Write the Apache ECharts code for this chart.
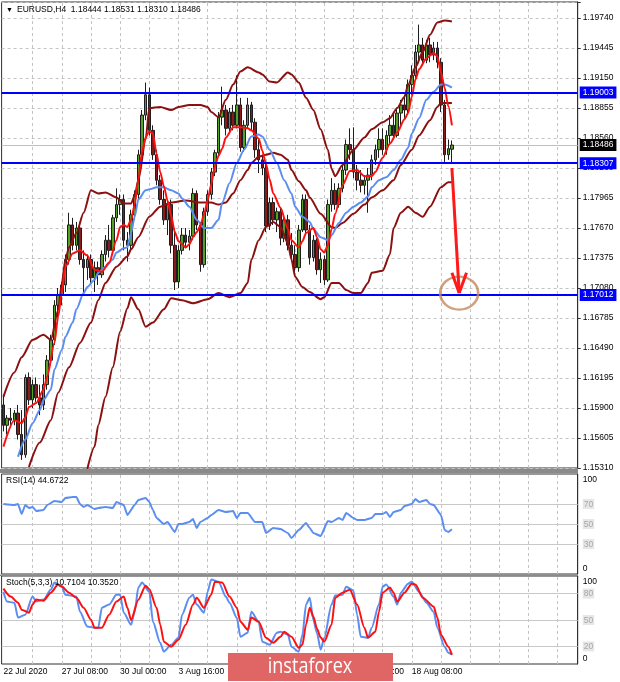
<!DOCTYPE html>
<html>
<head>
<meta charset="utf-8">
<script src="https://cdn.jsdelivr.net/npm/echarts@6.0.0/dist/echarts.min.js"></script>
<style>
html,body{margin:0;padding:0;background:#fff;}
#chart{width:620px;height:682px;}
</style>
</head>
<body>
<div id="chart"></div>
<script>
// ---------- DATA ----------
const symbolName = 'EURUSD,H4';
const year = '2020';
const BASE = 1.1531;          // lowest price tick of the main panel
const STEP = 0.00295;         // price tick step
const priceTicks = ['1.15310','1.15605','1.15900','1.16195','1.16490','1.16785','1.17080','1.17375',
  '1.17670','1.17965','1.18260','1.18560','1.18855','1.19150','1.19445','1.19740'];

const tradingDays = ['22 Jul','23 Jul','24 Jul','27 Jul','28 Jul','29 Jul','30 Jul','31 Jul',
  '3 Aug','4 Aug','5 Aug','6 Aug','7 Aug','10 Aug','11 Aug','12 Aug','13 Aug','14 Aug',
  '17 Aug','18 Aug','19 Aug','20 Aug','21 Aug','24 Aug','25 Aug','26 Aug','27 Aug'];
const barHours = ['00:00','04:00','08:00','12:00','16:00','20:00'];
const firstBar = 4;      // first visible bar: 22 Jul 16:00
const slotCount = 158;   // bar slots across the window (incl. right shift)

// [open, high, low, close]
const ohlc = [
[1.1593,1.1603,1.1567,1.1573],[1.1573,1.1583,1.1564,1.1580],[1.1580,1.1590,1.1571,1.1578],[1.1578,1.1588,1.1573,1.1585],
[1.1585,1.1593,1.1559,1.1564],[1.1564,1.1588,1.1539,1.1544],[1.1544,1.1623,1.1541,1.1620],[1.1620,1.1625,1.1593,1.1598],
[1.1598,1.1618,1.1590,1.1613],[1.1613,1.1620,1.1596,1.1600],[1.1600,1.1613,1.1583,1.1593],[1.1593,1.1623,1.1588,1.1613],
[1.1613,1.1642,1.1608,1.1637],[1.1637,1.1662,1.1632,1.1657],[1.1657,1.1696,1.1652,1.1691],[1.1691,1.1708,1.1679,1.1701],
[1.1701,1.1714,1.1691,1.1711],[1.1711,1.1741,1.1704,1.1736],[1.1736,1.1782,1.1731,1.1770],[1.1770,1.1777,1.1745,1.1750],
[1.1750,1.1773,1.1745,1.1767],[1.1767,1.1773,1.1731,1.1736],[1.1736,1.1745,1.1703,1.1728],[1.1728,1.1741,1.1716,1.1736],
[1.1736,1.1741,1.1711,1.1718],[1.1718,1.1734,1.1704,1.1728],[1.1728,1.1734,1.1711,1.1721],[1.1721,1.1745,1.1718,1.1741],
[1.1741,1.1760,1.1734,1.1755],[1.1755,1.1770,1.1738,1.1745],[1.1745,1.1780,1.1742,1.1777],[1.1777,1.1806,1.1773,1.1790],
[1.1790,1.1800,1.1780,1.1795],[1.1795,1.1800,1.1745,1.1755],[1.1755,1.1763,1.1734,1.1750],[1.1750,1.1785,1.1745,1.1780],
[1.1780,1.1804,1.1775,1.1800],[1.1800,1.1844,1.1795,1.1839],[1.1839,1.1883,1.1834,1.1878],[1.1878,1.1910,1.1873,1.1898],
[1.1898,1.1905,1.1858,1.1863],[1.1863,1.1868,1.1834,1.1839],[1.1839,1.1844,1.1809,1.1814],[1.1814,1.1819,1.1790,1.1795],
[1.1795,1.1804,1.1770,1.1775],[1.1775,1.1795,1.1760,1.1790],[1.1790,1.1795,1.1742,1.1750],[1.1750,1.1767,1.1706,1.1714],
[1.1714,1.1750,1.1708,1.1745],[1.1745,1.1767,1.1741,1.1760],[1.1760,1.1767,1.1747,1.1753],[1.1753,1.1765,1.1745,1.1759],
[1.1759,1.1806,1.1755,1.1801],[1.1801,1.1804,1.1765,1.1770],[1.1770,1.1773,1.1724,1.1731],[1.1731,1.1787,1.1728,1.1783],
[1.1783,1.1804,1.1779,1.1800],[1.1800,1.1826,1.1795,1.1822],[1.1822,1.1844,1.1818,1.1841],[1.1841,1.1881,1.1838,1.1876],
[1.1876,1.1906,1.1868,1.1883],[1.1883,1.1888,1.1858,1.1865],[1.1865,1.1885,1.1861,1.1881],[1.1881,1.1888,1.1863,1.1868],
[1.1868,1.1917,1.1865,1.1888],[1.1888,1.1895,1.1842,1.1846],[1.1846,1.1873,1.1842,1.1868],[1.1868,1.1895,1.1865,1.1888],
[1.1888,1.1891,1.1863,1.1871],[1.1871,1.1875,1.1836,1.1844],[1.1844,1.1854,1.1821,1.1834],[1.1834,1.1839,1.1819,1.1826],
[1.1826,1.1832,1.1763,1.1769],[1.1769,1.1797,1.1765,1.1792],[1.1792,1.1797,1.1770,1.1775],[1.1775,1.1787,1.1763,1.1783],
[1.1783,1.1787,1.1750,1.1757],[1.1757,1.1780,1.1753,1.1775],[1.1775,1.1780,1.1745,1.1750],[1.1750,1.1762,1.1734,1.1741],
[1.1741,1.1750,1.1723,1.1728],[1.1728,1.1770,1.1724,1.1765],[1.1765,1.1800,1.1763,1.1795],[1.1795,1.1800,1.1760,1.1765],
[1.1765,1.1770,1.1731,1.1738],[1.1738,1.1760,1.1734,1.1755],[1.1755,1.1757,1.1721,1.1726],[1.1726,1.1743,1.1713,1.1736],
[1.1736,1.1740,1.1711,1.1716],[1.1716,1.1795,1.1714,1.1790],[1.1790,1.1816,1.1783,1.1804],[1.1804,1.1811,1.1785,1.1790],
[1.1790,1.1811,1.1787,1.1806],[1.1806,1.1829,1.1802,1.1824],[1.1824,1.1854,1.1819,1.1849],[1.1849,1.1865,1.1834,1.1844],
[1.1844,1.1866,1.1816,1.1822],[1.1822,1.1829,1.1804,1.1814],[1.1814,1.1824,1.1802,1.1809],[1.1809,1.1819,1.1800,1.1814],
[1.1814,1.1826,1.1782,1.1819],[1.1819,1.1839,1.1814,1.1834],[1.1834,1.1849,1.1829,1.1844],[1.1844,1.1865,1.1836,1.1854],
[1.1854,1.1865,1.1839,1.1844],[1.1844,1.1863,1.1839,1.1858],[1.1858,1.1878,1.1849,1.1868],[1.1868,1.1881,1.1854,1.1858],
[1.1858,1.1885,1.1856,1.1880],[1.1880,1.1893,1.1868,1.1888],[1.1888,1.1898,1.1873,1.1883],[1.1883,1.1913,1.1880,1.1908],
[1.1908,1.1927,1.1898,1.1917],[1.1917,1.1947,1.1913,1.1940],[1.1940,1.1967,1.1930,1.1947],[1.1947,1.1954,1.1927,1.1932],
[1.1932,1.1952,1.1929,1.1947],[1.1947,1.1954,1.1930,1.1937],[1.1937,1.1950,1.1932,1.1944],[1.1944,1.1950,1.1924,1.1930],
[1.1930,1.1934,1.1881,1.1888],[1.1888,1.1893,1.1832,1.1839],[1.1839,1.1854,1.1834,1.1845],[1.18444,1.18531,1.18310,1.18486]
];

// indicator lines: [bar index, value]
const upperBand = [[0,1.1601],[3,1.1625],[5,1.1640],[8,1.1657],[11,1.1662],[13,1.1657],[15,1.1686],[16,1.1712],[17,1.1736],[18,1.1748],[20,1.1762],[22,1.1782],[24,1.1804],[26,1.1801],[28,1.1802],[31,1.1797],[33,1.1791],[35,1.1791],[36,1.1799],[37,1.1814],[39,1.1854],[40,1.1885],[43,1.1886],[46,1.1883],[48,1.1886],[51,1.1888],[54,1.1888],[56,1.1886],[57,1.1881],[59,1.1876],[61,1.1893],[63,1.1908],[65,1.1921],[67,1.1925],[70,1.1920],[71,1.1918],[73,1.1911],[75,1.1910],[78,1.1920],[79,1.1918],[81,1.1910],[83,1.1895],[85,1.1883],[87,1.1864],[89,1.1844],[90,1.1825],[91,1.1818],[93,1.1829],[96,1.1844],[99,1.1856],[101,1.1864],[104,1.1871],[106,1.1875],[108,1.1885],[110,1.1896],[111,1.1908],[113,1.1925],[115,1.1940],[117,1.1957],[119,1.1969],[121,1.1971],[123,1.1970]];
const lowerBand = [[23,1.1530],[25,1.1552],[26,1.1573],[28,1.1601],[30,1.1630],[32,1.1665],[34,1.1688],[35,1.1699],[37,1.1687],[39,1.1670],[41,1.1674],[44,1.1687],[46,1.1698],[49,1.1696],[52,1.1693],[56,1.1697],[59,1.1703],[62,1.1699],[65,1.1703],[67,1.1713],[68,1.1736],[70,1.1755],[72,1.1768],[74,1.1773],[76,1.1768],[78,1.1752],[79,1.1736],[80,1.1719],[82,1.1709],[84,1.1704],[87,1.1697],[88,1.1699],[90,1.1713],[92,1.1713],[94,1.1706],[96,1.1703],[98,1.1703],[100,1.1713],[101,1.1723],[104,1.1725],[106,1.1741],[107,1.1767],[109,1.1782],[111,1.1788],[113,1.1782],[115,1.1778],[117,1.1788],[120,1.1807],[122,1.1812],[123,1.1812]];
const slowMA = [[7,1.1532],[10,1.1556],[13,1.1578],[15,1.1605],[18,1.1630],[21,1.1654],[24,1.1674],[26,1.1696],[28,1.1713],[31,1.1729],[34,1.1739],[35,1.1746],[37,1.1758],[40,1.1778],[43,1.1788],[46,1.1792],[50,1.1794],[54,1.1792],[57,1.1792],[59,1.1790],[61,1.1792],[63,1.1801],[65,1.1814],[67,1.1824],[68,1.1831],[70,1.1837],[72,1.1839],[74,1.1841],[76,1.1839],[78,1.1834],[79,1.1824],[81,1.1813],[83,1.1804],[84,1.1797],[87,1.1781],[90,1.1768],[91,1.1767],[93,1.1772],[96,1.1781],[99,1.1790],[101,1.1797],[104,1.1804],[107,1.1814],[109,1.1829],[112,1.1844],[114,1.1858],[117,1.1873],[119,1.1886],[120,1.1890],[123,1.1890]];
const blueMA = [[4,1.1542],[6,1.1559],[8,1.1575],[10,1.1588],[11,1.1598],[13,1.1608],[14,1.1628],[16,1.1647],[17,1.1660],[19,1.1674],[20,1.1687],[22,1.1703],[23,1.1709],[25,1.1716],[26,1.1723],[28,1.1729],[30,1.1736],[31,1.1743],[33,1.1747],[34,1.1748],[35,1.1762],[36,1.1778],[37,1.1795],[39,1.1804],[40,1.1805],[42,1.1807],[44,1.1807],[46,1.1804],[48,1.1801],[49,1.1796],[51,1.1788],[53,1.1775],[55,1.1767],[57,1.1767],[59,1.1775],[60,1.1792],[62,1.1811],[64,1.1831],[66,1.1844],[68,1.1857],[70,1.1859],[71,1.1857],[73,1.1844],[75,1.1831],[77,1.1814],[79,1.1801],[80,1.1788],[82,1.1778],[84,1.1773],[85,1.1766],[87,1.1758],[89,1.1755],[90,1.1760],[92,1.1772],[94,1.1782],[96,1.1788],[98,1.1792],[100,1.1798],[101,1.1807],[103,1.1814],[105,1.1817],[107,1.1824],[109,1.1834],[111,1.1846],[112,1.1860],[114,1.1875],[116,1.1893],[118,1.1901],[120,1.1908],[121,1.1908],[123,1.1905]];
const redMA = [[0,1.1552],[3,1.1578],[5,1.1575],[6,1.1581],[7,1.1591],[9,1.1595],[11,1.1608],[12,1.1621],[14,1.1654],[15,1.1680],[16,1.1703],[17,1.1729],[19,1.1742],[21,1.1745],[23,1.1740],[25,1.1726],[27,1.1724],[29,1.1733],[31,1.1755],[32,1.1768],[33,1.1770],[34,1.1768],[35,1.1775],[36,1.1790],[37,1.1815],[38,1.1842],[39,1.1856],[40,1.1862],[41,1.1860],[42,1.1840],[43,1.1822],[44,1.1808],[45,1.1794],[46,1.1779],[47,1.1763],[48,1.1754],[50,1.1748],[51,1.1751],[52,1.1758],[53,1.1763],[54,1.1769],[55,1.1780],[56,1.1794],[57,1.1810],[58,1.1828],[59,1.1838],[60,1.1845],[61,1.1856],[63,1.1866],[65,1.1866],[67,1.1865],[68,1.1863],[70,1.1855],[71,1.1843],[72,1.1830],[73,1.1815],[74,1.1801],[76,1.1787],[78,1.1766],[79,1.1755],[81,1.1748],[82,1.1754],[83,1.1762],[85,1.1767],[86,1.1758],[87,1.1746],[88,1.1743],[89,1.1750],[90,1.1766],[91,1.1781],[93,1.1809],[95,1.1823],[97,1.1824],[99,1.1818],[101,1.1818],[102,1.1822],[104,1.1836],[106,1.1850],[108,1.1861],[110,1.1874],[111,1.1880],[112,1.1896],[113,1.1913],[114,1.1923],[116,1.1934],[118,1.1939],[119,1.1936],[120,1.1920],[121,1.1905],[122,1.1887],[123,1.1868]];

const rsi = [[0,70],[3,69],[4,70],[5,60],[6,69],[7,66],[8,67],[9,63],[11,64],[12,69],[14,73],[16,72],[17,76],[19,77],[20,77],[21,70],[22,67],[23,69],[25,65],[26,66],[28,67],[30,66],[31,72],[33,69],[34,59],[36,69],[37,74],[39,76],[40,72],[41,64],[42,56],[44,50],[45,52],[47,42],[48,50],[49,50],[51,52],[52,55],[53,46],[54,52],[56,56],[57,59],[59,64],[61,62],[63,63],[64,56],[65,61],[67,61],[69,52],[71,52],[72,41],[74,46],[76,45],[78,41],[79,36],[81,44],[83,51],[84,46],[85,41],[87,38],[89,53],[90,52],[92,56],[93,54],[94,61],[96,56],[97,54],[99,54],[101,56],[102,60],[104,60],[105,62],[106,57],[107,62],[109,64],[110,68],[112,70],[113,75],[114,72],[116,74],[117,70],[118,69],[120,59],[121,44],[122,42],[123,44.6722]];
const stochK = [[0,82.2],[1,70.9],[3,69.7],[4,52.7],[6,56.1],[8,76.6],[9,70.9],[11,73.2],[13,84.5],[14,92.5],[16,88],[17,78.8],[20,76.6],[21,59.4],[23,42.5],[25,41.3],[26,41.3],[27,64],[29,67.5],[31,78.8],[32,78.8],[33,58.3],[35,44.7],[36,59.4],[37,86.8],[38,92.5],[40,82.2],[41,48.1],[43,24.2],[44,14],[46,21.8],[48,29.9],[49,56.1],[51,75.4],[52,78.8],[53,67.5],[55,58.3],[56,82.2],[57,95.9],[59,93.6],[61,76.6],[62,69.7],[64,52.7],[65,31],[67,35.5],[68,59.4],[70,48.1],[71,25.4],[73,21.8],[75,35.5],[76,36.7],[78,33.3],[79,19.7],[81,14],[82,33.3],[83,67.5],[84,75.4],[85,50],[86,35],[87,16.3],[88,29.9],[90,67.5],[91,77.7],[93,78.8],[94,87.9],[96,83.3],[97,56.1],[98,31],[100,29.9],[101,41.3],[103,67.5],[104,87.9],[105,90.2],[107,76.6],[108,67.5],[109,81.1],[111,91.3],[112,93.6],[114,82.2],[116,69.7],[118,59.4],[119,41.3],[121,19.7],[122,12.9],[123,10.7104]];
const stochD = [[0,85.7],[2,76.6],[4,69.7],[5,61.7],[7,58.3],[8,67.5],[9,73.2],[11,72],[13,81.1],[15,90.2],[16,88],[18,81.1],[20,75.4],[22,64],[24,50.4],[25,41.3],[27,41.3],[29,56.1],[31,70.9],[33,76.6],[34,64],[35,50],[37,73],[39,89],[40,85],[42,64],[43,44.7],[44,25.4],[46,19.7],[48,27.6],[50,44.7],[52,67.5],[53,75.4],[55,64],[57,78.8],[58,93.6],[60,92.5],[62,76.6],[64,64],[65,48.1],[67,39],[68,52.7],[70,48.1],[72,29.9],[74,24.2],[76,31],[77,36.7],[79,31],[81,18.5],[82,21.8],[83,45],[84,64],[85,54],[86,40],[87,30],[88,25.4],[90,44.7],[91,75.4],[93,81.1],[95,84.5],[97,67.5],[99,41.3],[100,29.9],[102,36.7],[103,59.4],[104,81.1],[106,86.8],[107,81.1],[108,70.9],[110,81.1],[112,91.3],[113,90.2],[115,75.4],[118,65.2],[119,52.7],[120,33.3],[122,19.7],[123,10.3520]];

const levels = [1.19003, 1.18307, 1.17012];
const rsiLevels = [30, 50, 70];
const stochLevels = [20, 50, 80];
// hand-drawn forecast arrow and target circle (bar index, price)
const arrowShaft = [[123, 1.1826], [125, 1.1703]];
const arrowArms = [[[123, 1.1723], [125, 1.1703]], [[127, 1.1723], [125, 1.1703]]];
const targetCircle = [125, 1.1703];

// ---------- BUILD ----------
const FONT = '"Liberation Sans", Arial, sans-serif';
const FS = 8.5;
const categories = tradingDays.flatMap(d => barHours.map(h => d + ' ' + h)).slice(firstBar, firstBar + slotCount);
const off = p => +(p - BASE).toFixed(6);
const offPairs = arr => arr.map(([i, p]) => [i, off(p)]);
const last = ohlc[ohlc.length - 1];
const lastPrice = last[3];
const gridEvery = 8, labelEvery = 16;
const vGrid = [];
for (let i = gridEvery; i < slotCount; i += gridEvery) vGrid.push({ xAxis: categories[i] });

const GL = 1.6, GW = 576.1;
const grids = [
  { left: GL, top: 2, width: GW, height: 466 },
  { left: GL, top: 474, width: GW, height: 100 },
  { left: GL, top: 576, width: GW, height: 88 }
];
grids.forEach(g => { g.show = true; g.borderColor = '#303030'; g.borderWidth = 1; g.backgroundColor = '#fff'; });

const xAxes = [0, 1, 2].map(g => ({
  gridIndex: g, type: 'category', data: categories, boundaryGap: true,
  axisLine: { show: false }, axisTick: { show: false }, splitLine: { show: false },
  axisLabel: g === 2 ? {
    show: true, align: 'left', margin: 3, fontSize: FS, fontFamily: FONT, color: '#000',
    interval: (i) => i < ohlc.length && i % labelEvery === 0,
    formatter: (v, i) => i === 0 ? v.split(' ').slice(0, 2).join(' ') + ' ' + year : v
  } : { show: false }
}));

const levelRich = { color: '#a8a8a8', backgroundColor: '#e6e6e6', padding: [1, 1, 0, 1], fontSize: FS, fontFamily: FONT };
const edgeRich = {
  top: { padding: [11, 0, 0, 0], fontSize: FS, fontFamily: FONT, color: '#000' },
  bot: { padding: [0, 0, 11, 0], fontSize: FS, fontFamily: FONT, color: '#000' },
  lv: levelRich
};
const oscAxis = (g, lv) => ({
  gridIndex: g, type: 'value', position: 'right', min: 0, max: 100, interval: 10,
  axisLine: { show: true, lineStyle: { color: '#303030' } }, axisTick: { show: false }, splitLine: { show: false },
  axisLabel: {
    margin: 5, fontSize: FS, fontFamily: FONT, color: '#000', rich: edgeRich,
    formatter: v => v === 100 ? '{top|100}' : v === 0 ? '{bot|0}' : lv.includes(v) ? '{lv|' + v + '}' : ''
  }
});

const yAxes = [
  {
    gridIndex: 0, type: 'value', position: 'right', min: 0, max: 466 / 30 * STEP, interval: STEP,
    axisLine: { show: true, lineStyle: { color: '#303030' } },
    axisTick: { show: true, length: 3, lineStyle: { color: '#303030' } },
    axisLabel: { margin: 5, fontSize: FS, fontFamily: FONT, color: '#000',
      formatter: v => priceTicks[Math.round(v / STEP)] || '' },
    splitLine: { show: true, lineStyle: { color: '#c4c4c4', type: [3, 3], width: 1 } }
  },
  oscAxis(1, rsiLevels),
  oscAxis(2, stochLevels)
];

const vGridLine = { silent: true, symbol: ['none', 'none'], z: 1, animation: false, precision: 8, label: { show: false },
  lineStyle: { color: '#c4c4c4', type: [3, 3], width: 1 } };
const lvlLine = v => ({ yAxis: v, lineStyle: { color: '#c8c8c8', type: 'solid', width: 1 } });

const boxLabel = (bg, txt) => ({ show: true, position: 'end', distance: 2, formatter: txt,
  backgroundColor: bg, color: '#fff', padding: [2, 3, 1, 3], fontSize: FS, fontFamily: FONT });

const lineSeries = (name, data, color, xi, yi, extra) => Object.assign({
  name, type: 'line', xAxisIndex: xi, yAxisIndex: yi, data, showSymbol: false, symbol: 'none',
  smooth: 0.25, smoothMonotone: 'x', lineStyle: { color, width: 2 }, silent: true, animation: false, z: 3
}, extra || {});

const series = [
  {
    name: 'EURUSD', type: 'candlestick', xAxisIndex: 0, yAxisIndex: 0, barWidth: 3, silent: true, z: 2,
    data: ohlc.map(([o, h, l, c]) => [off(o), off(c), off(l), off(h)]),
    itemStyle: { color: '#55a126', color0: '#8b1a1a', borderColor: '#1e1e1e', borderColor0: '#1e1e1e', borderWidth: 1 },
    markLine: Object.assign({}, vGridLine, {
      data: vGrid.concat([{ yAxis: off(lastPrice), lineStyle: { color: '#c0c0c0', type: 'solid', width: 1 },
        label: boxLabel('#000', lastPrice.toFixed(5)) }])
    })
  },
  lineSeries('Upper band', offPairs(upperBand), '#8b1010', 0, 0),
  lineSeries('Lower band', offPairs(lowerBand), '#8b1010', 0, 0),
  lineSeries('Slow MA', offPairs(slowMA), '#8b1010', 0, 0),
  lineSeries('Blue MA', offPairs(blueMA), '#5b8ef0', 0, 0, {
    markLine: { silent: true, symbol: ['none', 'none'], animation: false, z: 8, precision: 8, label: { show: false },
      lineStyle: { color: '#ff1a1a', width: 3, type: 'solid' },
      data: [arrowShaft].concat(arrowArms).map(seg => seg.map(([i, p]) => ({ coord: [categories[i], off(p)] })))
    }
  }),
  lineSeries('Red MA', offPairs(redMA), '#ff1010', 0, 0, {
    markLine: { silent: true, symbol: ['none', 'none'], animation: false, z: 6, precision: 8,
      data: levels.map(v => ({ yAxis: off(v), lineStyle: { color: '#0000ff', width: 2, type: 'solid' },
        label: boxLabel('#0000ff', v.toFixed(5)) }))
    }
  }),
  {
    name: 'Target', type: 'scatter', xAxisIndex: 0, yAxisIndex: 0, silent: true, z: 7,
    data: [[categories[targetCircle[0]], off(targetCircle[1])]],
    symbol: 'circle', symbolSize: [38, 33],
    itemStyle: { color: 'rgba(0,0,0,0)', borderColor: '#c58a5c', borderWidth: 2.5 }
  },
  lineSeries('RSI', rsi, '#5b8ef0', 1, 1, {
    smooth: 0.15,
    markLine: Object.assign({}, vGridLine, { data: vGrid.concat(rsiLevels.map(lvlLine)) })
  }),
  lineSeries('%K', stochK, '#5b8ef0', 2, 2, {
    markLine: Object.assign({}, vGridLine, { data: vGrid.concat(stochLevels.map(lvlLine)) })
  }),
  lineSeries('%D', stochD, '#ff1010', 2, 2, { z: 4 })
];

const fmt = a => a.map(v => v.toFixed(5)).join(' ');
const txt = (x, y, text, size, extra) => Object.assign({ type: 'text', x, y, z: 50, silent: true,
  style: { text, font: size + 'px ' + FONT, fill: '#000', textVerticalAlign: 'middle' } }, extra || {});

const graphic = [
  txt(6, 10, '\u25BC', 7),
  txt(17, 10, symbolName + '  ' + fmt(last), FS),
  txt(6, 481, 'RSI(14) ' + rsi[rsi.length - 1][1].toFixed(4), FS),
  txt(6, 583, 'Stoch(5,3,3) ' + stochK[stochK.length - 1][1].toFixed(4) + ' ' + stochD[stochD.length - 1][1].toFixed(4), FS),
  { type: 'rect', z: 40, silent: true, shape: { x: 0, y: 469, width: 578, height: 4 }, style: { fill: '#8a8a8a' } },
  { type: 'rect', z: 40, silent: true, shape: { x: 0, y: 574.5, width: 578, height: 1.5 }, style: { fill: '#8a8a8a' } },
  { type: 'rect', z: 100, silent: true, shape: { x: 228, y: 653, width: 165, height: 28 }, style: { fill: '#e06666' } },
  { type: 'text', z: 101, silent: true, x: 310, y: 667, scaleX: 0.82,
    style: { text: 'instaforex', fill: '#fff', font: '22px "Open Sans", "Liberation Sans", sans-serif',
      textAlign: 'center', textVerticalAlign: 'middle' } }
];

const chart = echarts.init(document.getElementById('chart'), null, { renderer: 'canvas', devicePixelRatio: 1 });
chart.setOption({
  animation: false,
  backgroundColor: '#fff',
  grid: grids,
  xAxis: xAxes,
  yAxis: yAxes,
  series,
  graphic
});
</script>
</body>
</html>
